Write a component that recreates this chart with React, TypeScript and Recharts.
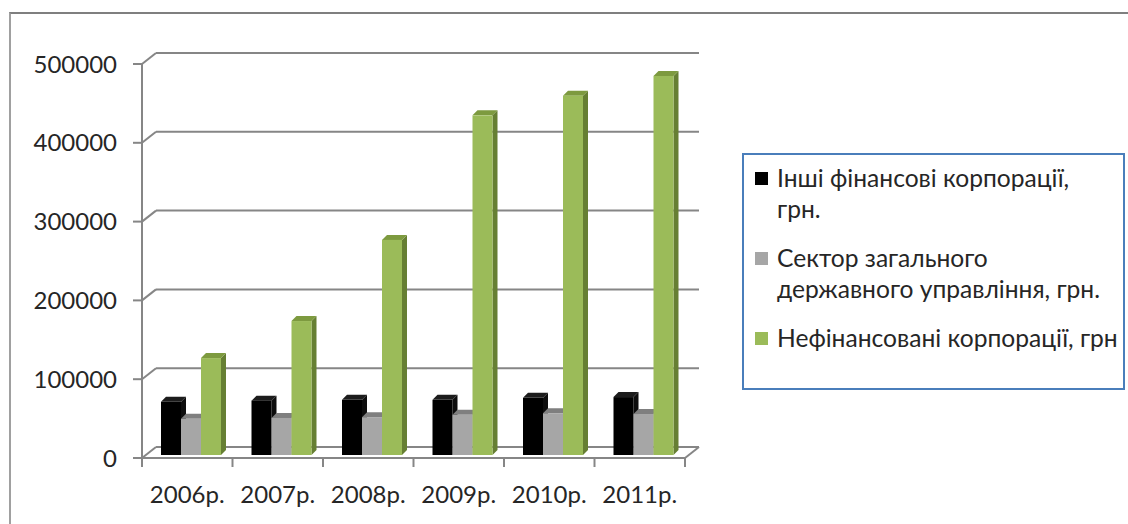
import { BarChart, Bar, XAxis, YAxis, CartesianGrid, Legend } from 'recharts';

// categories and series values
const years = ['2006р.', '2007р.', '2008р.', '2009р.', '2010р.', '2011р.'];
const otherFinancial = [67500, 69000, 70000, 70000, 72500, 73500];
const generalGovernment = [46000, 47000, 48000, 51000, 53000, 52000];
const nonFinancial = [123000, 170000, 273000, 431000, 456000, 481000];
const yTicks = [0, 100000, 200000, 300000, 400000, 500000];

const seriesNames = [
  'Інші фінансові корпорації, грн.',
  'Сектор загального державного управління, грн.',
  'Нефінансовані корпорації, грн',
];
// legend captions, already broken into lines
const legendLines = [
  ['Інші фінансові корпорації,', 'грн.'],
  ['Сектор загального', 'державного управління, грн.'],
  ['Нефінансовані корпорації, грн'],
];

const data = years.map((year, i) => ({
  year,
  other: otherFinancial[i],
  gov: generalGovernment[i],
  nonfin: nonFinancial[i],
}));

const W = 1128;
const H = 524;
const PLOT_RIGHT = 685;
const PLOT_LEFT = 142;
const PLOT_BOTTOM = 458;
const BAND = (PLOT_RIGHT - PLOT_LEFT) / years.length;
const WALL_DX = 14;
const WALL_DY = 11;
const BAR_DEPTH = 5;
const FONT = 'Lato, "Open Sans", sans-serif';
const TEXT = '#262626';
const LINE = '#868686';
const LINE_W = 2;

const colors = [
  { face: '#000000', top: '#1c1c1c', side: '#0d0d0d' },
  { face: '#a6a6a6', top: '#7f7f7f', side: '#7a7a7a' },
  { face: '#9bbb59', top: '#7d9a3f', side: '#667f33' },
];

// bar with a top and a right side face, pushed slightly into the floor depth
function Box3D(props: any) {
  const { x, y, width, height, face, top, side } = props;
  if (width == null || height == null) return null;
  const bx = x + 4;
  const by = y - 3;
  const d = BAR_DEPTH;
  return (
    <g>
      <polygon
        points={`${bx + width},${by} ${bx + width + d},${by - d} ${bx + width + d},${by + height - d} ${bx + width},${by + height}`}
        fill={side}
      />
      <polygon
        points={`${bx},${by} ${bx + d},${by - d} ${bx + width + d},${by - d} ${bx + width},${by}`}
        fill={top}
      />
      <rect x={bx} y={by} width={width} height={height} fill={face} />
    </g>
  );
}

// gridlines sit on the back wall, joined to the front axis by short diagonals
function wallLine(p: any) {
  const { x1, x2, y1, index } = p;
  const by = y1 - WALL_DY;
  const isFloor = Math.abs(y1 - PLOT_BOTTOM) < 1;
  return (
    <g key={`wall-${index}`}>
      <line x1={x1} y1={y1} x2={x1 + WALL_DX} y2={by} stroke={LINE} strokeWidth={LINE_W} />
      <line x1={x1 + WALL_DX} y1={by} x2={x2 + WALL_DX} y2={by} stroke={LINE} strokeWidth={LINE_W} />
      {isFloor && <line x1={x2} y1={y1} x2={x2 + WALL_DX} y2={by} stroke={LINE} strokeWidth={LINE_W} />}
    </g>
  );
}

function YearTick(props: any) {
  const { x, payload, index } = props;
  const half = BAND / 2;
  return (
    <g>
      {index === 0 && (
        <line x1={x - half} y1={PLOT_BOTTOM} x2={x - half} y2={PLOT_BOTTOM + 9} stroke={LINE} strokeWidth={LINE_W} />
      )}
      <line x1={x + half} y1={PLOT_BOTTOM} x2={x + half} y2={PLOT_BOTTOM + 9} stroke={LINE} strokeWidth={LINE_W} />
      <text x={x} y={PLOT_BOTTOM + 45} textAnchor="middle" fill={TEXT} fontSize={24} fontFamily={FONT}>
        {payload.value}
      </text>
    </g>
  );
}

function LegendBox() {
  const baselines = [[34, 65], [114, 145], [194]];
  return (
    <svg width={383} height={237} style={{ display: 'block' }}>
      <rect x={1} y={1} width={381} height={235} fill="#fff" stroke="#4a7ebb" strokeWidth={2} />
      {legendLines.map((lines, i) => (
        <g key={seriesNames[i]}>
          <rect x={13} y={baselines[i][0] - 15} width={13} height={13} fill={colors[i].face} />
          {lines.map((line, j) => (
            <text key={line} x={35} y={baselines[i][j]} fill={TEXT} fontSize={24.6} fontFamily={FONT}>
              {line}
            </text>
          ))}
        </g>
      ))}
    </svg>
  );
}

export default function App() {
  return (
    <div style={{ position: 'absolute', left: 0, top: 0, width: W, height: H, background: '#fff', overflow: 'hidden' }}>
      <div
        style={{
          position: 'absolute',
          left: 9,
          top: 12,
          width: W,
          height: H,
          borderTop: '2px solid #7f7f7f',
          borderLeft: '2px solid #a0a0a0',
        }}
      />
      <div style={{ position: 'absolute', left: 0, top: 0 }}>
        <BarChart
          width={W}
          height={H}
          data={data}
          margin={{ top: 64, right: W - PLOT_RIGHT, bottom: 26, left: PLOT_LEFT - 80 }}
          barGap={0}
          barSize={20}
        >
          <CartesianGrid vertical={false} horizontal={wallLine} />
          <XAxis
            dataKey="year"
            height={40}
            axisLine={{ stroke: LINE, strokeWidth: LINE_W }}
            tickLine={false}
            tick={<YearTick />}
            interval={0}
          />
          <YAxis
            width={80}
            domain={[0, 500000]}
            ticks={yTicks}
            interval={0}
            axisLine={{ stroke: LINE, strokeWidth: LINE_W }}
            tickLine={{ stroke: LINE, strokeWidth: LINE_W }}
            tickSize={9}
            tickMargin={16}
            tick={{ fill: TEXT, fontSize: 24, fontFamily: FONT }}
          />
          <Legend
            layout="vertical"
            align="center"
            verticalAlign="middle"
            wrapperStyle={{ left: 742, top: 153, width: 383, height: 237 }}
            content={<LegendBox />}
          />
          <Bar dataKey="other" name={seriesNames[0]} isAnimationActive={false}
            shape={(p: any) => <Box3D {...p} {...colors[0]} />} />
          <Bar dataKey="gov" name={seriesNames[1]} isAnimationActive={false}
            shape={(p: any) => <Box3D {...p} {...colors[1]} />} />
          <Bar dataKey="nonfin" name={seriesNames[2]} isAnimationActive={false}
            shape={(p: any) => <Box3D {...p} {...colors[2]} />} />
        </BarChart>
      </div>
    </div>
  );
}
